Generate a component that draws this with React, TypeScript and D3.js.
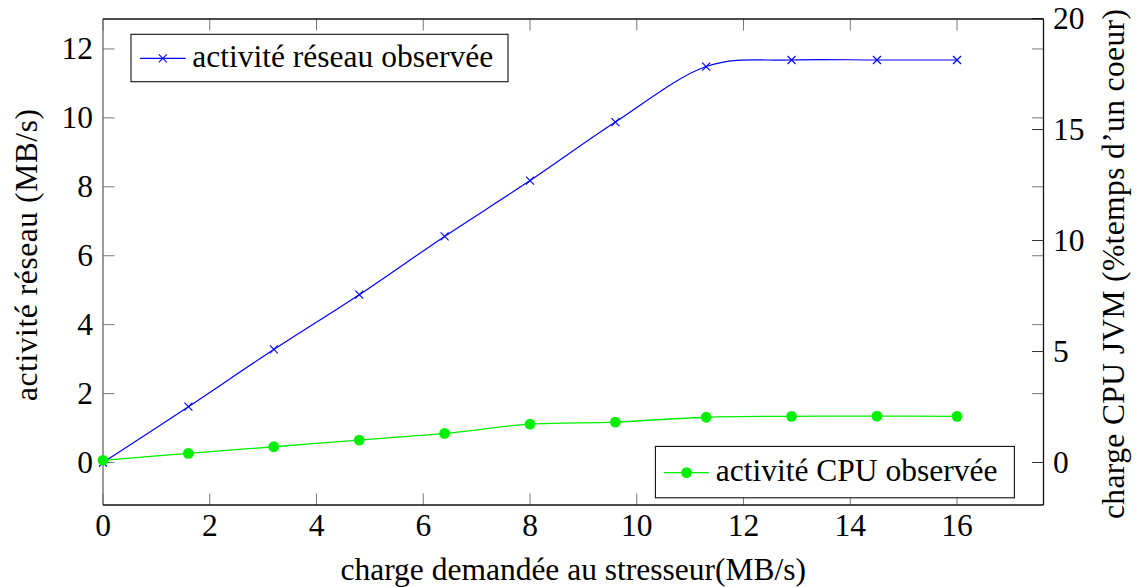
import React from "react";
import * as d3 from "d3";

const loads = [0, 1.6, 3.2, 4.8, 6.4, 8, 9.6, 11.3, 12.9, 14.5, 16];
const network = [0.0, 1.62, 3.28, 4.87, 6.56, 8.18, 9.88, 11.49, 11.68, 11.68, 11.68];
const cpu = [0.1, 0.41, 0.71, 1.01, 1.31, 1.73, 1.82, 2.04, 2.08, 2.09, 2.08];
const xTicks = [0, 2, 4, 6, 8, 10, 12, 14, 16];
const leftTicks = [0, 2, 4, 6, 8, 10, 12];
const rightTicks = [0, 5, 10, 15, 20];
const xLabel = "charge demandée au stresseur(MB/s)";
const leftLabel = "activité réseau (MB/s)";
const rightLabel = "charge CPU JVM (%temps d’un coeur)";
const netName = "activité réseau observée";
const cpuName = "activité CPU observée";

const W = 1142, H = 587;
const L = 103, R = 1043.5, T = 19, B = 505;
const FONT = "Liberation Serif";
const FS = 31.5;
const BLUE = "#0000ff";
const GREEN = "#00f000";

function Txt(props: any) {
  return <text fontFamily={FONT} fontSize={FS} fill="#000" {...props} />;
}

export default function App() {
  const x = d3.scaleLinear().domain([0, 17.62]).range([L, R]);
  const yL = d3.scaleLinear().domain([-1.233, 12.87]).range([B, T]);
  const yR = d3.scaleLinear().domain([-1.914, 19.98]).range([B, T]);

  const netLine = d3.line<number>().x((_, i) => x(loads[i])).y((d) => yL(d)).curve(d3.curveCardinal.tension(0));
  const cpuLine = d3.line<number>().x((_, i) => x(loads[i])).y((d) => yR(d)).curve(d3.curveCardinal.tension(0));

  const tk = 11.5;
  const cross = (cx: number, cy: number, s: number, key: string | number) => (
    <g key={key} stroke={BLUE} strokeWidth={1.1}>
      <line x1={cx - s} y1={cy - s} x2={cx + s} y2={cy + s} />
      <line x1={cx - s} y1={cy + s} x2={cx + s} y2={cy - s} />
    </g>
  );

  return (
    <svg width={W} height={H} style={{ position: "absolute", left: 0, top: 0, background: "#fff" }}>
      <rect x={0} y={0} width={W} height={H} fill="#fff" />
      {/* x ticks */}
      {xTicks.map((t) => (
        <g key={"x" + t}>
          <line x1={x(t)} x2={x(t)} y1={B} y2={B - tk} stroke="#777" strokeWidth={1} />
          <line x1={x(t)} x2={x(t)} y1={T} y2={T + tk} stroke="#777" strokeWidth={1} />
          <Txt x={x(t)} y={536} textAnchor="middle">{t}</Txt>
        </g>
      ))}
      {/* left ticks */}
      {leftTicks.map((t) => (
        <g key={"l" + t}>
          <line x1={L} x2={L + tk} y1={yL(t)} y2={yL(t)} stroke="#777" strokeWidth={1} />
          <line x1={R} x2={R - tk} y1={yL(t)} y2={yL(t)} stroke="#777" strokeWidth={1} />
          <Txt x={93} y={yL(t) + 10.5} textAnchor="end">{t}</Txt>
        </g>
      ))}
      {/* right ticks */}
      {rightTicks.map((t) => (
        <g key={"r" + t}>
          <line x1={R} x2={R - tk} y1={yR(t)} y2={yR(t)} stroke="#333" strokeWidth={1} />
          <Txt x={1053} y={yR(t) + 10.5} textAnchor="start">{t}</Txt>
        </g>
      ))}
      {/* box */}
      <line x1={L} x2={L} y1={T} y2={B} stroke="#666" strokeWidth={1.3} />
      <line x1={L} x2={R} y1={T} y2={T} stroke="#111" strokeWidth={1.3} />
      <line x1={L} x2={R} y1={B} y2={B} stroke="#111" strokeWidth={1.3} />
      <line x1={R} x2={R} y1={T} y2={B} stroke="#111" strokeWidth={1.3} />

      {/* network series */}
      <path d={netLine(network) || ""} fill="none" stroke={BLUE} strokeWidth={1.2} />
      {network.map((v, i) => cross(x(loads[i]), yL(v), 4, "c" + i))}

      {/* cpu series */}
      <path d={cpuLine(cpu) || ""} fill="none" stroke={GREEN} strokeWidth={1.3} />
      {cpu.map((v, i) => (
        <circle key={"p" + i} cx={x(loads[i])} cy={yR(v)} r={5.4} fill={GREEN} />
      ))}

      {/* legend 1 */}
      <rect x={131} y={34.3} width={377} height={47.4} fill="#fff" stroke="#111" strokeWidth={1.1} />
      <line x1={140} x2={185.7} y1={58.3} y2={58.3} stroke={BLUE} strokeWidth={1.2} />
      {cross(162.8, 58.3, 4, "leg1")}
      <Txt x={192.3} y={66.7}>{netName}</Txt>

      {/* legend 2 */}
      <rect x={655.4} y={446.4} width={359} height={51.4} fill="#fff" stroke="#111" strokeWidth={1.1} />
      <line x1={664} x2={709} y1={472.6} y2={472.6} stroke={GREEN} strokeWidth={1.3} />
      <circle cx={686.6} cy={472.6} r={5.4} fill={GREEN} />
      <Txt x={715.7} y={480.5}>{cpuName}</Txt>

      {/* axis labels */}
      <Txt x={(L + R) / 2} y={580} textAnchor="middle">{xLabel}</Txt>
      <Txt transform={`translate(37, 255) rotate(-90)`} textAnchor="middle" textLength={292} lengthAdjust="spacing">{leftLabel}</Txt>
      <Txt transform={`translate(1124, 264) rotate(-90)`} textAnchor="middle" textLength={510} lengthAdjust="spacing">{rightLabel}</Txt>
    </svg>
  );
}
